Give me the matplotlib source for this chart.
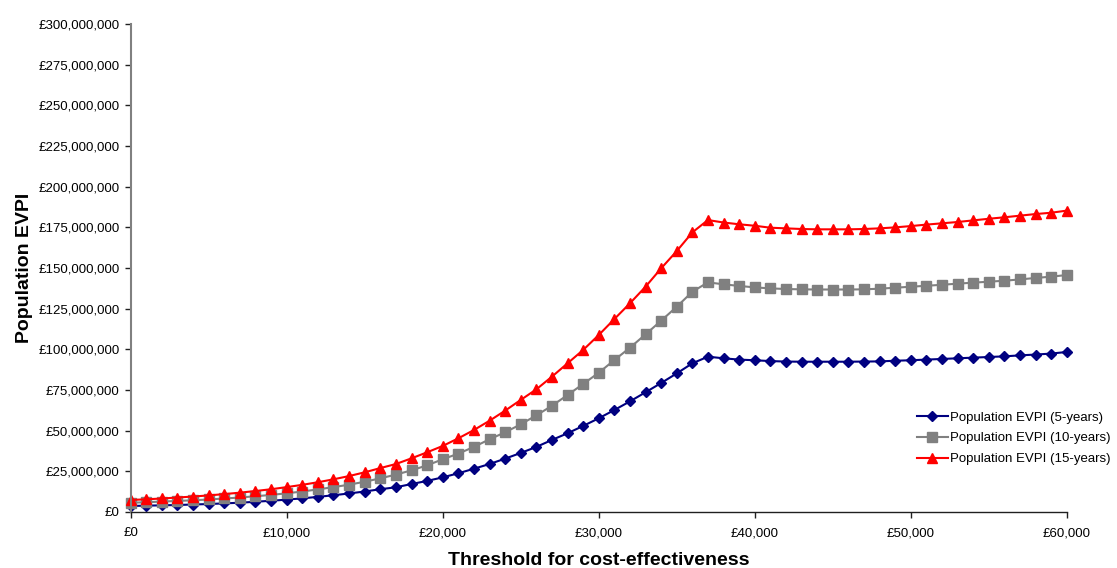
import matplotlib
matplotlib.use("Agg")
import matplotlib.pyplot as plt
from matplotlib.ticker import FuncFormatter, MultipleLocator

plt.rcParams['font.family'] = ['Liberation Sans', 'DejaVu Sans']

thresholds = list(range(0, 61000, 1000))

evpi_5yr = [3.7, 3.9, 4.1, 4.3, 4.6, 4.9, 5.3, 5.7, 6.3, 6.9,
            7.6, 8.4, 9.3, 10.3, 11.4, 12.6, 14.0, 15.2, 17.2, 19.1,
            21.3, 23.8, 26.6, 29.5, 32.8, 36.3, 40.0, 44.3, 48.4, 52.9,
            57.6, 62.7, 68.0, 73.6, 79.3, 85.2, 91.4, 95.5, 94.5, 93.7,
            93.3, 92.8, 92.5, 92.4, 92.4, 92.4, 92.4, 92.5, 92.6, 93.0,
            93.3, 93.7, 94.1, 94.5, 94.9, 95.3, 95.7, 96.3, 96.8, 97.4, 98.4]

evpi_10yr = [5.7, 6.0, 6.4, 6.8, 7.2, 7.7, 8.3, 8.9, 9.7, 10.5,
             11.5, 12.6, 13.9, 15.3, 16.8, 18.6, 20.7, 23.0, 25.6, 28.7,
             32.4, 35.9, 40.0, 44.7, 49.0, 53.9, 59.4, 65.3, 71.9, 78.7,
             85.6, 93.4, 101.0, 109.2, 117.6, 126.2, 135.4, 141.2, 140.0, 139.0,
             138.1, 137.5, 137.1, 136.9, 136.8, 136.8, 136.8, 136.9, 137.3, 137.9,
             138.5, 139.1, 139.7, 140.4, 141.0, 141.6, 142.2, 143.0, 143.9, 144.7, 145.7]

evpi_15yr = [7.4, 7.8, 8.3, 8.9, 9.5, 10.2, 11.0, 11.9, 12.9, 14.0,
             15.3, 16.7, 18.3, 20.1, 22.1, 24.4, 27.0, 29.5, 33.0, 36.7,
             40.6, 45.3, 50.4, 56.1, 62.3, 68.9, 75.4, 83.2, 91.4, 99.6,
             108.8, 118.6, 128.3, 138.5, 149.8, 160.4, 171.9, 179.5, 178.0, 176.9,
             176.0, 174.8, 174.4, 174.0, 173.8, 173.8, 173.8, 174.0, 174.4, 175.0,
             175.8, 176.7, 177.5, 178.3, 179.3, 180.3, 181.2, 182.2, 183.2, 184.0, 185.3]

series_labels = ['Population EVPI (5-years)', 'Population EVPI (10-years)',
                 'Population EVPI (15-years)']

fig = plt.figure(figsize=(11.17, 5.68), dpi=100)
ax = fig.add_axes([0.117, 0.0986, 0.838, 0.859])

ax.plot(thresholds, [v * 1e6 for v in evpi_5yr], color='#000080', marker='D',
        markersize=5.5, linewidth=1.5, label=series_labels[0])
ax.plot(thresholds, [v * 1e6 for v in evpi_10yr], color='#808080', marker='s',
        markersize=6.5, linewidth=1.5, label=series_labels[1])
ax.plot(thresholds, [v * 1e6 for v in evpi_15yr], color='#FF0000', marker='^',
        markersize=7, linewidth=1.5, label=series_labels[2])

ax.set_xlim(0, 60000)
ax.set_ylim(0, 300e6)
ax.xaxis.set_major_locator(MultipleLocator(10000))
ax.yaxis.set_major_locator(MultipleLocator(25e6))
ax.xaxis.set_major_formatter(FuncFormatter(lambda v, p: '£{:,.0f}'.format(v)))
ax.yaxis.set_major_formatter(FuncFormatter(lambda v, p: '£{:,.0f}'.format(v)))

for s in ['top', 'right']:
    ax.spines[s].set_visible(False)
ax.spines['left'].set_color('#808080')
ax.spines['left'].set_linewidth(1.5)
ax.spines['bottom'].set_color('#202020')
ax.spines['bottom'].set_linewidth(1.0)
ax.tick_params(axis='both', direction='out', length=4, width=1, color='#202020',
               labelsize=9.5, labelcolor='black')
ax.tick_params(axis='y', pad=4)
ax.tick_params(axis='x', pad=7)

ax.set_xlabel('Threshold for cost-effectiveness', fontsize=14, fontweight='bold', labelpad=9)
ax.set_ylabel('Population EVPI', fontsize=14, fontweight='bold', labelpad=4)

ax.legend(loc='upper left', bbox_to_anchor=(0.834, 0.217), frameon=False, fontsize=9.5,
          handlelength=2.35, handletextpad=0.2, labelspacing=0.65, borderaxespad=0)
for line in ax.get_lines():
    line.set_clip_on(False)

fig.savefig('out.png', dpi=100)
